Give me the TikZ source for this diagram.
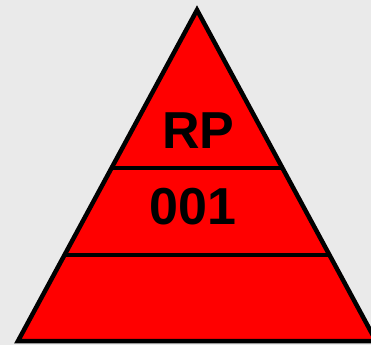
\documentclass[tikz,border=0pt]{standalone}
\usepackage{fontspec}
\setmainfont{Liberation Sans}
\usetikzlibrary{calc}
\definecolor{bggray}{HTML}{EAEAEA}
\definecolor{signred}{HTML}{FF0000}
\tikzset{
  edge/.style={line width=4.5pt,black},
  label/.style={font=\bfseries\fontsize{52}{52}\selectfont,inner sep=0pt,anchor=center}
}
\begin{document}
\begin{tikzpicture}[x=1pt,y=-1pt]
  \useasboundingbox[fill=bggray] (0,0) rectangle (371,345);
  \clip (0,0) rectangle (371,345);
  \coordinate (apex) at (197,10);
  \coordinate (bl) at (18,341);
  \coordinate (br) at (376,341);

  \draw[edge,fill=signred,line join=miter] (apex) -- (bl) -- (br) -- cycle;
  \draw[edge] ($(apex)!0.477!(bl)$) coordinate (ul) -- ($(apex)!0.477!(br)$) coordinate (ur);
  \draw[edge] ($(apex)!0.740!(bl)$) coordinate (ll) -- ($(apex)!0.740!(br)$) coordinate (lr);

  \node[label] (rp) at (198.5,131) {RP};
  \node[label] (num) at (193,207) {001};
\end{tikzpicture}
\end{document}
